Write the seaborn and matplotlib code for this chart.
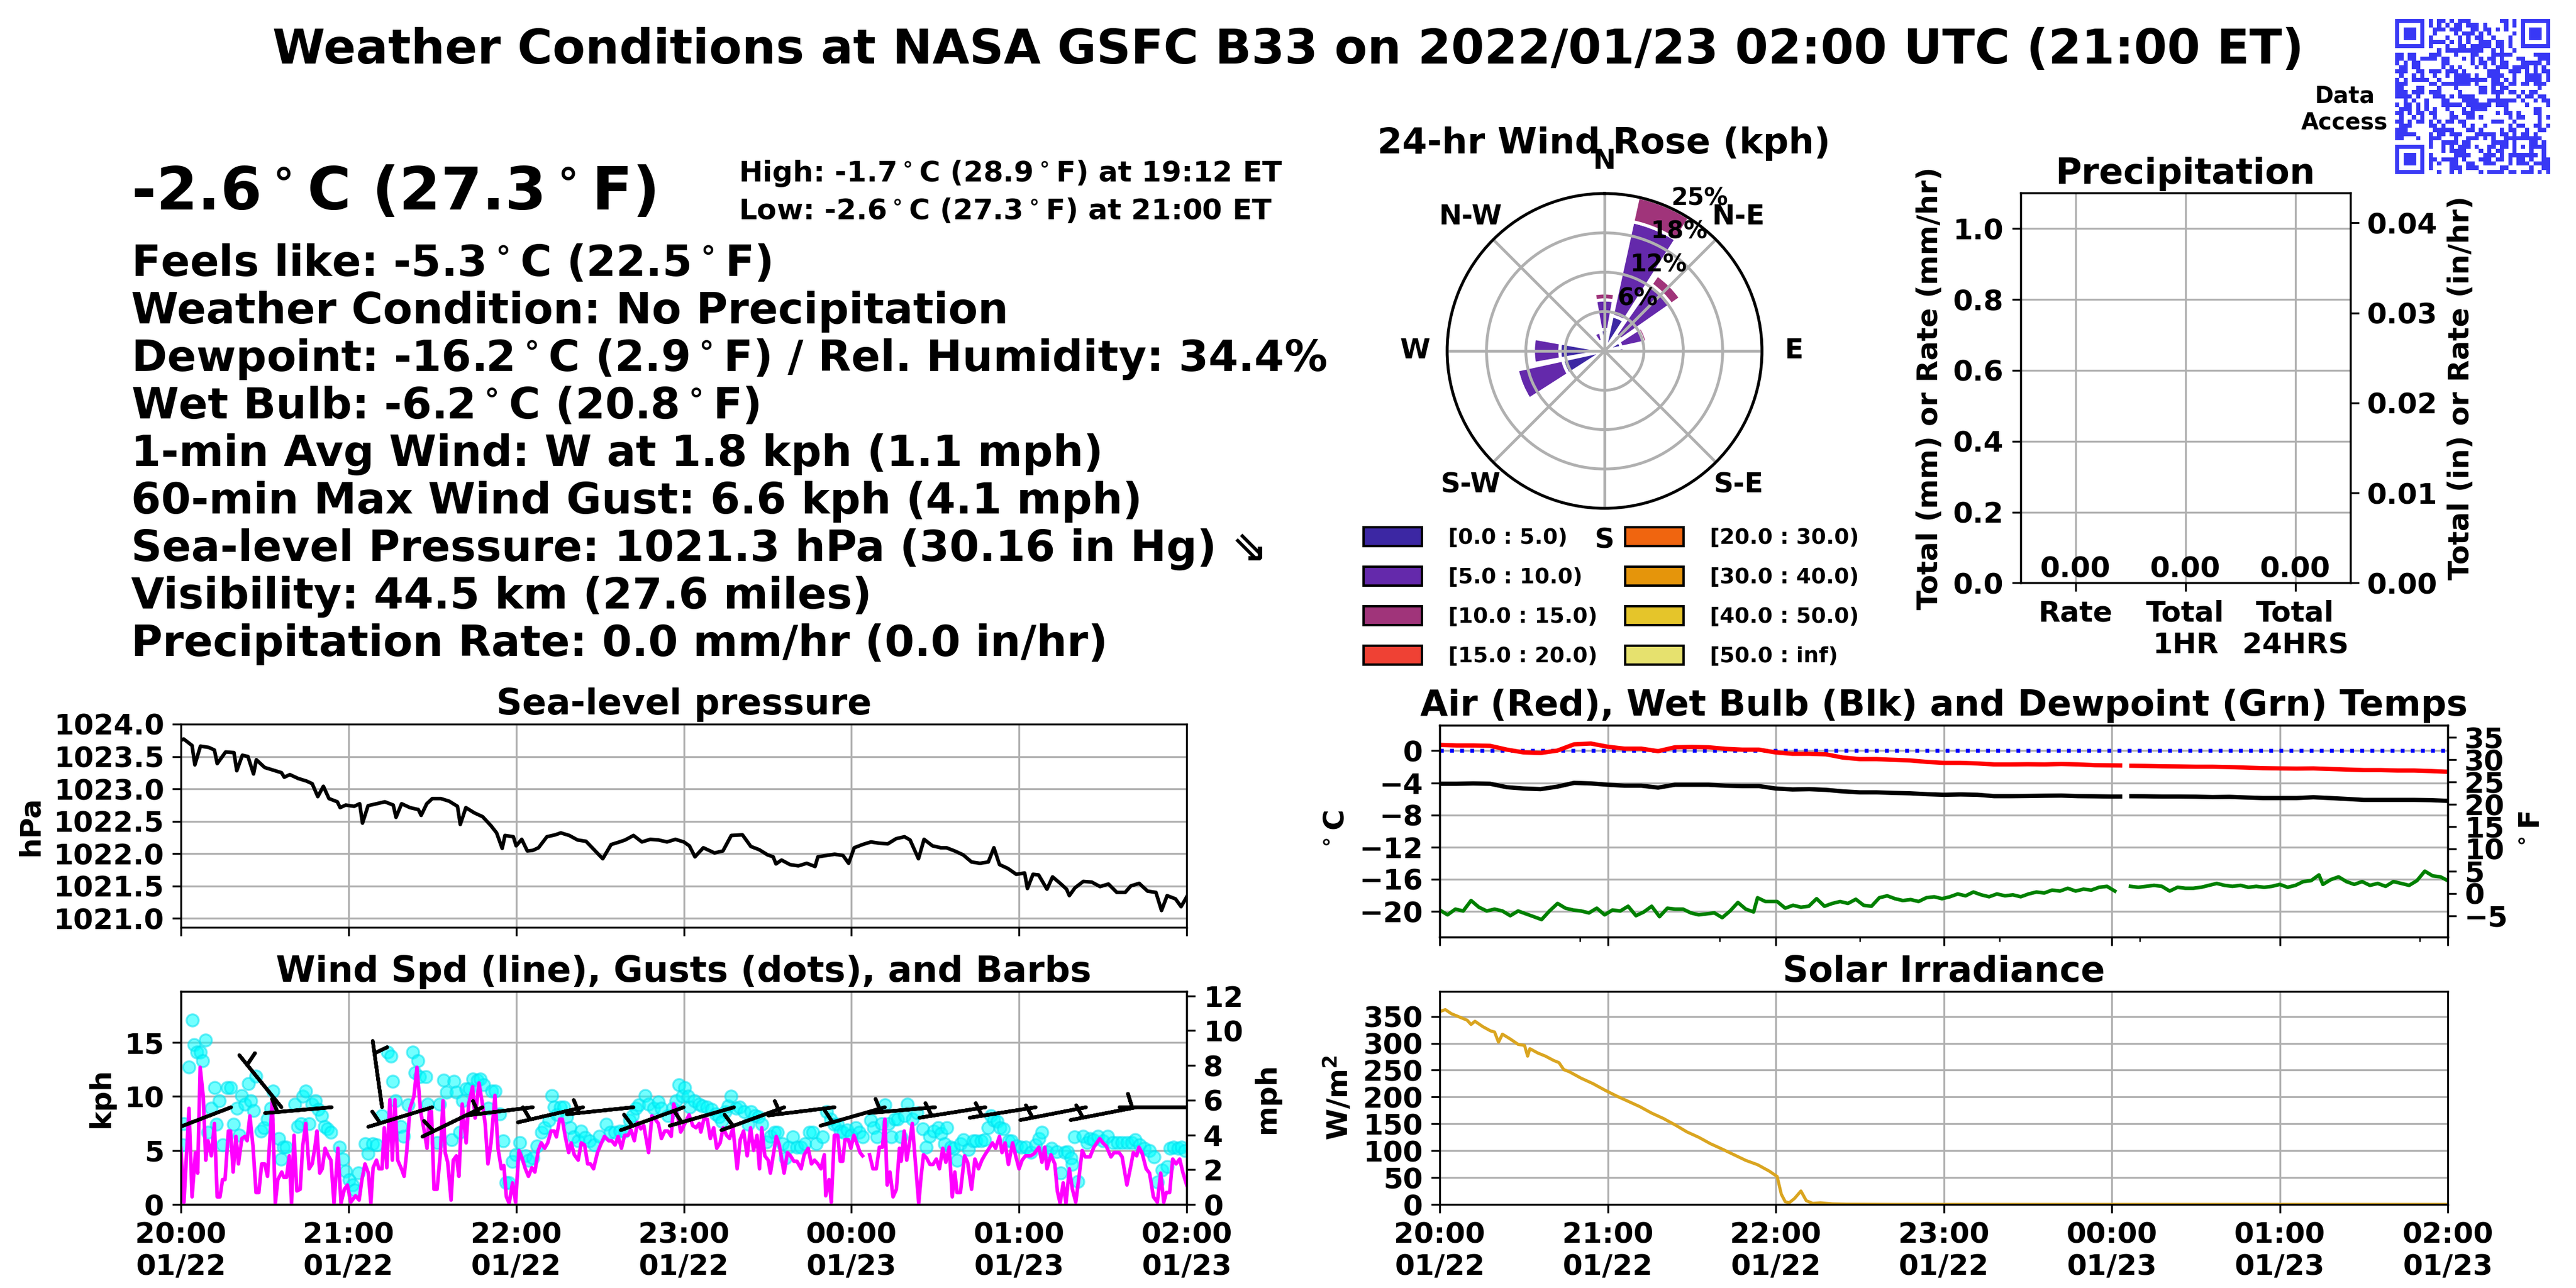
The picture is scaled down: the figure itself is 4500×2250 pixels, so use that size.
import hashlib
import numpy as np
import pandas as pd
import matplotlib
matplotlib.use("Agg")
import matplotlib.pyplot as plt
import matplotlib.dates as mdates
from matplotlib.ticker import FormatStrFormatter, FixedLocator
from matplotlib.patches import Patch
from matplotlib.colors import ListedColormap
import seaborn as sns

# ======================= DATA =======================
START = "2022-01-22 20:00"
END = "2022-01-23 02:00"
GAP_MIN = 245  # minutes after START where the record has a short gap

pres_min = [0, 1, 4, 5, 7, 10, 12, 13, 16, 19,
            20, 22, 24, 26, 27, 30, 33, 36, 37, 39,
            42, 45, 47, 49, 51, 53, 56, 57, 59, 62,
            64, 65, 67, 70, 73, 76, 77, 79, 82, 85,
            86, 88, 90, 93, 96, 99, 100, 102, 105, 108,
            111, 113, 115, 116, 119, 120, 122, 124, 126, 128,
            131, 134, 136, 139, 142, 145, 151, 154, 157, 159,
            162, 165, 168, 171, 174, 177, 180, 182, 184, 187,
            191, 194, 197, 201, 204, 207, 210, 212, 213, 215,
            218, 221, 224, 227, 228, 231, 234, 237, 239, 241,
            244, 247, 250, 253, 256, 259, 261, 264, 266, 269,
            272, 274, 277, 280, 283, 286, 289, 291, 293, 296,
            299, 302, 303, 305, 307, 310, 312, 315, 317, 318,
            320, 323, 326, 329, 332, 335, 338, 340, 343, 346,
            349, 351, 353, 356, 358, 360]
pres_hpa = [1023.75, 1023.77, 1023.67, 1023.37, 1023.66, 1023.64, 1023.60, 1023.39, 1023.57, 1023.56,
            1023.28, 1023.52, 1023.50, 1023.23, 1023.45, 1023.33, 1023.29, 1023.25, 1023.18, 1023.22,
            1023.16, 1023.12, 1023.08, 1022.88, 1023.04, 1022.85, 1022.80, 1022.71, 1022.75, 1022.73,
            1022.77, 1022.47, 1022.74, 1022.77, 1022.80, 1022.75, 1022.56, 1022.77, 1022.71, 1022.68,
            1022.59, 1022.77, 1022.85, 1022.85, 1022.81, 1022.73, 1022.45, 1022.71, 1022.63, 1022.57,
            1022.43, 1022.32, 1022.08, 1022.28, 1022.26, 1022.12, 1022.22, 1022.04, 1022.05, 1022.09,
            1022.26, 1022.29, 1022.32, 1022.28, 1022.21, 1022.19, 1021.92, 1022.14, 1022.18, 1022.21,
            1022.28, 1022.18, 1022.22, 1022.21, 1022.18, 1022.22, 1022.18, 1022.12, 1021.95, 1022.09,
            1022.01, 1022.04, 1022.28, 1022.29, 1022.11, 1022.06, 1021.98, 1021.95, 1021.84, 1021.90,
            1021.83, 1021.81, 1021.85, 1021.80, 1021.95, 1021.97, 1021.99, 1021.97, 1021.85, 1022.09,
            1022.14, 1022.18, 1022.16, 1022.15, 1022.23, 1022.26, 1022.21, 1021.92, 1022.22, 1022.12,
            1022.09, 1022.09, 1022.04, 1021.98, 1021.87, 1021.85, 1021.87, 1022.09, 1021.83, 1021.77,
            1021.68, 1021.70, 1021.46, 1021.68, 1021.67, 1021.45, 1021.64, 1021.53, 1021.45, 1021.35,
            1021.47, 1021.57, 1021.56, 1021.49, 1021.53, 1021.40, 1021.40, 1021.50, 1021.54, 1021.42,
            1021.40, 1021.12, 1021.35, 1021.30, 1021.18, 1021.33]

temp_min = [0, 6, 12, 18, 24, 30, 36, 42, 48, 54,
            60, 66, 72, 78, 84, 90, 96, 102, 108, 114,
            120, 126, 132, 138, 144, 150, 156, 162, 168, 174,
            180, 186, 192, 198, 204, 210, 216, 222, 228, 234,
            240, 243, 247, 252, 258, 264, 270, 276, 282, 288,
            294, 300, 306, 312, 318, 324, 330, 336, 342, 348,
            354, 360]
air_c = [0.73, 0.66, 0.66, 0.61, 0.14, -0.21, -0.28, 0.02, 0.80, 0.90,
         0.50, 0.26, 0.26, -0.05, 0.43, 0.47, 0.43, 0.24, 0.14, 0.14,
         -0.21, -0.38, -0.38, -0.45, -0.85, -1.04, -1.04, -1.13, -1.21, -1.39,
         -1.51, -1.51, -1.58, -1.70, -1.70, -1.68, -1.70, -1.65, -1.70, -1.80,
         -1.82, -1.83, -1.87, -1.89, -1.94, -1.96, -1.99, -1.99, -2.03, -2.10,
         -2.17, -2.20, -2.22, -2.20, -2.27, -2.34, -2.41, -2.41, -2.46, -2.46,
         -2.53, -2.62]
wetbulb_c = [-4.11, -4.11, -4.07, -4.11, -4.54, -4.70, -4.78, -4.47, -4.00, -4.07,
             -4.23, -4.35, -4.35, -4.59, -4.23, -4.23, -4.23, -4.35, -4.40, -4.40,
             -4.70, -4.82, -4.78, -4.87, -5.06, -5.18, -5.18, -5.25, -5.30, -5.41,
             -5.48, -5.44, -5.48, -5.65, -5.65, -5.63, -5.60, -5.58, -5.65, -5.67,
             -5.70, -5.70, -5.66, -5.67, -5.70, -5.70, -5.72, -5.77, -5.74, -5.82,
             -5.89, -5.89, -5.89, -5.79, -5.89, -6.00, -6.12, -6.12, -6.12, -6.12,
             -6.15, -6.24]

dew_min = [0.0, 2.8, 5.6, 8.4, 11.2, 14.0, 16.8, 19.6, 22.4, 25.2,
           28.0, 30.8, 33.6, 36.4, 39.2, 42.1, 44.9, 47.7, 50.5, 53.3,
           56.1, 58.9, 61.7, 64.5, 67.3, 70.1, 72.9, 75.7, 78.5, 81.3,
           84.1, 86.9, 89.7, 92.5, 95.3, 98.1, 100.9, 103.7, 106.5, 109.3,
           112.1, 113.5, 116.3, 120.5, 123.4, 126.2, 129.0, 131.8, 134.6, 137.4,
           140.2, 143.0, 145.8, 148.6, 151.4, 154.2, 157.0, 159.8, 162.6, 165.4,
           168.2, 171.0, 173.8, 176.6, 179.4, 182.2, 185.0, 187.8, 190.6, 193.4,
           196.2, 199.0, 201.9, 204.7, 207.5, 210.3, 213.1, 215.9, 218.7, 221.5,
           224.3, 227.1, 229.9, 232.7, 235.5, 238.3, 241.1, 246.7, 249.5, 252.3,
           255.1, 257.9, 260.7, 263.5, 266.3, 269.1, 271.9, 274.7, 277.5, 280.3,
           283.1, 286.0, 288.8, 291.6, 294.4, 297.2, 300.0, 302.8, 305.6, 308.4,
           311.2, 314.0, 315.4, 318.2, 321.0, 323.8, 326.6, 329.4, 332.2, 335.0,
           337.8, 340.6, 343.4, 346.2, 349.0, 351.8, 354.6, 357.4, 360.0]
dew_c = [-19.83, -20.43, -19.72, -19.95, -18.65, -19.48, -19.95, -19.72, -19.95, -20.54,
         -19.95, -20.31, -20.66, -21.02, -19.95, -19.01, -19.60, -19.83, -19.95, -20.19,
         -19.60, -20.43, -19.83, -19.95, -19.36, -20.54, -20.07, -19.36, -20.66, -19.60,
         -19.72, -19.72, -20.19, -20.43, -20.31, -20.19, -20.78, -19.95, -18.89, -19.72,
         -20.07, -18.30, -18.77, -18.77, -19.60, -19.24, -19.48, -19.36, -18.42, -19.36,
         -19.01, -18.77, -19.01, -18.49, -19.24, -19.36, -18.30, -18.06, -18.42, -18.65,
         -18.53, -18.77, -18.30, -18.18, -18.42, -18.18, -17.83, -18.06, -17.59, -17.94,
         -18.18, -17.83, -18.06, -17.94, -18.18, -17.83, -17.59, -17.71, -17.35, -17.47,
         -17.12, -17.47, -17.23, -17.35, -17.00, -16.88, -17.47, -16.88, -17.00, -16.88,
         -16.76, -16.88, -17.47, -17.00, -17.12, -17.12, -17.00, -16.76, -16.52, -16.76,
         -16.88, -16.76, -17.00, -16.88, -17.00, -16.88, -16.64, -17.00, -16.76, -16.29,
         -16.17, -15.46, -16.64, -16.05, -15.70, -16.29, -16.64, -16.29, -16.76, -16.52,
         -16.88, -16.29, -16.52, -16.76, -16.17, -14.99, -15.58, -15.70, -16.17]

wind_min = [0.0, 1.1, 2.9, 4.0, 5.2, 6.0, 6.9, 8.0, 8.9, 9.7,
            10.9, 12.0, 13.0, 14.0, 14.9, 15.8, 17.0, 17.8, 18.7, 19.7,
            20.6, 21.8, 22.9, 23.7, 24.7, 25.8, 26.9, 27.9, 28.9, 30.0,
            31.0, 32.7, 33.8, 34.7, 36.1, 36.9, 37.8, 38.8, 39.6, 40.5,
            41.5, 42.7, 43.6, 44.7, 45.9, 47.0, 47.9, 48.7, 49.7, 50.6,
            51.6, 52.8, 53.7, 54.8, 56.2, 57.3, 58.5, 59.6, 60.8, 62.5,
            63.8, 64.8, 65.9, 67.1, 68.0, 68.8, 70.0, 70.9, 72.0, 72.8,
            73.7, 74.8, 75.7, 76.6, 77.6, 79.1, 79.9, 80.8, 82.0, 83.4,
            84.5, 85.8, 86.9, 88.1, 88.9, 89.7, 90.6, 91.7, 92.9, 93.8,
            94.6, 95.5, 96.7, 97.5, 98.6, 99.5, 100.7, 102.1, 103.0, 104.4,
            105.3, 106.7, 107.8, 108.9, 109.9, 111.0, 112.4, 113.5, 114.7, 115.6,
            116.5, 117.5, 118.7, 119.8, 121.0, 122.1, 123.3, 124.4, 125.6, 126.7,
            127.9, 129.0, 130.2, 131.3, 132.5, 133.6, 134.4, 135.6, 136.5, 137.6,
            138.8, 139.7, 140.8, 142.2, 143.3, 144.5, 145.6, 146.6, 147.7, 149.1,
            150.2, 151.6, 153.1, 154.2, 155.4, 156.5, 157.7, 158.8, 160.0, 161.1,
            162.3, 163.4, 164.6, 165.7, 167.4, 168.6, 169.7, 170.9, 172.0, 173.2,
            174.3, 175.5, 176.4, 177.8, 178.9,
            180.4, 181.9, 183.2, 184.4, 185.5, 186.1, 187.2, 188.4, 189.5, 190.7,
            191.8, 193.0, 194.1, 195.3, 196.4, 197.6, 199.1, 200.2, 201.4, 202.7,
            203.9, 205.0, 206.2, 207.1, 207.9, 209.0, 210.2, 211.0, 213.1, 214.2,
            215.9, 217.1, 218.2, 219.4, 220.5, 222.0, 223.1, 224.5, 225.7, 226.8,
            228.0, 229.1, 230.3, 230.8, 232.0, 232.8, 233.9, 235.1, 236.0, 236.9,
            237.7, 238.9, 239.8, 240.9, 242.3, 243.1, 244.0, 246.5, 247.7, 248.9,
            250.0, 251.1, 252.0, 252.8, 253.8, 254.9, 256.1, 257.2, 257.8, 258.9,
            259.8, 260.8, 261.8, 262.9, 264.1, 264.9, 265.8, 266.9, 268.1, 269.2,
            270.4, 271.5, 272.7, 273.8, 275.0, 276.1, 277.0, 277.8, 279.0, 280.5,
            281.6, 283.0, 284.2, 285.5, 286.7, 287.8, 289.3, 290.5, 291.6, 293.0,
            293.9, 295.0, 296.2, 297.7, 298.8, 300.0, 301.1, 302.3, 304.2, 305.4,
            307.1, 308.2, 309.2, 310.0, 311.4, 312.8, 313.7, 314.7, 315.8, 316.8,
            318.0, 319.1, 320.3, 321.4, 322.6, 323.7, 325.4, 326.8, 328.9, 330.0,
            331.2, 332.9, 334.0, 335.8, 336.9, 338.6, 339.8, 340.9, 342.1, 342.9,
            344.0, 345.5, 346.7, 348.1, 349.5, 350.7, 351.8, 352.7, 353.9, 355.0,
            356.2, 357.5, 358.7, 360.0]
wind_kph = [5.2, 0.2, 8.9, 0.7, 4.8, 2.9, 12.7, 10.0, 4.1, 5.9,
            4.5, 7.5, 0.7, 0.7, 2.3, 2.3, 6.8, 6.8, 3.0, 6.3,
            3.75, 6.1, 6.3, 5.9, 8.2, 5.4, 1.1, 1.1, 3.75, 3.75,
            2.6, 9.6, 0.1, 2.3, 3.0, 2.5, 2.5, 4.5, 0.1, 6.4,
            1.25, 1.4, 5.4, 7.5, 3.3, 3.75, 5.2, 6.8, 2.9, 3.3,
            5.2, 4.5, 4.1, 0.1, 5.2, 0.1, 1.4, 1.8, 0.2, 0.8,
            0.4, 2.3, 3.75, 2.9, 0.1, 3.4, 4.1, 3.3, 3.3, 7.1,
            3.4, 9.7, 4.1, 9.7, 4.1, 3.2, 2.6, 4.8, 8.9, 10.0,
            12.7, 8.6, 7.1, 5.2, 8.6, 8.6, 1.4, 1.4, 4.8, 9.6,
            4.8, 3.9, 0.4, 4.1, 4.5, 2.6, 9.3, 5.7, 9.3, 10.9,
            8.0, 11.25, 9.5, 7.5, 3.75, 5.7, 10.1, 5.2, 3.3, 3.6,
            0.7, 0.1, 2.0, 0.2, 5.0, 4.3, 3.3, 2.6, 3.4, 3.0,
            5.0, 5.7, 5.2, 5.7, 6.8, 6.8, 6.25, 7.9, 7.9, 6.25,
            4.8, 5.7, 4.6, 4.1, 5.7, 5.5, 3.75, 3.75, 3.3, 4.8,
            5.5, 6.3, 5.9, 5.9, 5.5, 6.3, 5.2, 6.4, 6.4, 6.9,
            5.9, 7.6, 7.0, 7.3, 4.8, 8.2, 7.9, 7.5, 6.1, 6.8,
            6.8, 6.3, 9.3, 8.2, 6.7,
            7.5, 8.3, 7.3, 7.1, 7.5, 6.7, 7.9, 7.9, 6.1, 7.1,
            5.2, 5.7, 7.1, 6.4, 6.1, 7.1, 3.3, 6.0, 6.8, 4.5,
            7.1, 5.0, 6.4, 3.3, 7.1, 4.5, 4.1, 2.9, 6.3, 5.5,
            2.9, 4.8, 4.5, 4.0, 4.0, 3.3, 4.6, 5.2, 3.75, 4.1,
            3.75, 3.3, 4.6, 0.8, 2.3, 0.2, 6.4, 6.4, 4.0, 4.0,
            6.0, 6.0, 5.2, 6.4, 5.4, 4.8, 4.5, 4.6, 3.3, 3.3,
            5.3, 5.3, 7.9, 1.8, 3.0, 0.7, 1.4, 5.2, 4.0, 6.8,
            4.1, 5.7, 7.5, 3.9, 0.1, 2.5, 4.6, 4.3, 3.7, 3.7,
            4.2, 3.3, 5.2, 3.9, 5.3, 0.7, 3.0, 1.1, 1.1, 4.5,
            3.9, 1.4, 4.2, 3.3, 4.1, 4.6, 5.2, 5.7, 5.2, 6.3,
            4.8, 5.7, 3.7, 5.7, 4.5, 3.3, 4.1, 4.5, 4.5, 4.7,
            5.3, 3.9, 5.3, 3.3, 4.6, 3.75, 1.25, 0.1, 2.0, 0.1,
            3.3, 1.4, 0.2, 2.4, 5.0, 4.4, 4.4, 5.3, 6.1, 5.7,
            5.4, 4.4, 4.8, 4.8, 4.4, 1.8, 3.3, 4.8, 4.5, 5.3,
            4.8, 3.3, 2.9, 0.7, 0.2, 2.9, 0.2, 1.1, 1.1, 4.2,
            3.75, 4.2, 2.9, 1.8]

gust_min = [0.6, 1.1, 2.9, 4.0, 4.8, 5.7, 6.9, 7.8, 8.8, 9.7,
            10.9, 12.0, 12.8, 13.8, 14.9, 16.6, 17.8, 18.9, 20.1, 20.9,
            21.8, 22.9, 24.1, 25.0, 26.1, 26.9, 28.7, 29.8, 31.0, 32.1,
            33.0, 35.0, 35.8, 36.7, 37.8, 40.7, 41.9, 43.0, 43.6, 44.7,
            45.9, 47.0, 48.2, 49.1, 50.5, 51.4, 52.5, 53.7, 56.8, 57.9,
            59.1, 60.2, 61.4, 62.2, 63.6, 65.9, 67.1, 68.6, 70.0, 72.0,
            74.0, 75.1, 75.9, 76.8, 78.6, 79.7, 81.4, 82.9, 83.9, 84.9,
            85.4, 87.7, 88.3, 91.7, 92.7, 94.0, 95.0, 96.9, 97.7, 98.6,
            99.8, 100.9, 102.1, 103.2, 104.4, 106.1, 107.2, 108.4, 110.1, 111.2,
            112.4, 114.1, 115.3, 116.4, 117.5, 118.7, 119.8, 121.3, 123.3, 124.4,
            126.1, 127.5, 129.0, 130.2, 131.7, 132.8, 133.6, 134.7, 135.9, 137.0,
            138.2, 139.3, 140.5, 142.2, 143.3, 144.7, 146.2, 147.9, 149.7, 152.3,
            153.7, 155.4, 157.1, 158.8, 160.6, 161.7, 162.8, 164.0, 166.1, 167.4,
            169.2, 170.9, 172.0, 174.3, 176.0, 177.2, 178.3, 179.5,
            180.4, 181.5, 182.1, 183.8, 185.5, 186.7, 188.4, 189.9, 191.3, 192.5,
            193.6, 194.8, 195.9, 197.0, 198.7, 199.9, 201.6, 203.0, 204.1, 205.6,
            206.7, 207.9, 209.6, 211.0, 212.5, 213.6, 215.3, 216.3, 217.6, 219.1,
            220.5, 222.0, 223.4, 224.9, 226.2, 227.4, 229.7, 231.2, 232.5, 233.7,
            235.1, 236.0, 237.1, 238.5, 240.0, 241.5, 242.9, 244.0, 246.9, 248.0,
            249.2, 250.7, 252.0, 253.2, 254.3, 255.5, 256.6, 257.8, 258.9, 260.1,
            261.8, 263.5, 265.6, 266.7, 267.9, 269.5, 271.0, 272.1, 273.3, 274.1,
            275.6, 276.7, 277.8, 279.0, 280.1, 281.9, 283.6, 284.7, 286.4, 287.6,
            289.0, 289.9, 291.0, 292.2, 293.3, 294.5, 296.2, 297.3, 299.1, 300.8,
            302.5, 304.2, 305.9, 307.1, 308.2, 310.0, 311.7, 313.4, 314.9, 316.3,
            317.4, 318.6, 319.1, 319.9, 321.1, 322.9, 324.3, 325.4, 326.6, 328.3,
            330.0, 331.7, 333.5, 335.2, 336.9, 338.6, 340.3, 341.5, 343.2, 344.9,
            346.7, 348.4, 349.5, 351.2, 353.0, 354.1, 355.3, 357.0, 358.1, 359.3]
gust_kph = [5.5, 7.5, 12.7, 17.05, 14.8, 14.1, 14.1, 13.3, 15.2, 6.7,
            8.9, 10.8, 7.4, 9.6, 5.5, 10.8, 10.8, 7.4, 8.9, 6.4,
            10.1, 9.3, 11.2, 9.6, 8.7, 11.9, 6.8, 7.1, 7.9, 8.9,
            10.5, 6.1, 4.2, 5.3, 5.3, 9.3, 7.2, 7.5, 10.0, 10.5,
            7.5, 9.3, 9.6, 8.8, 8.2, 7.2, 7.0, 6.7, 5.3, 4.2,
            3.1, 2.3, 1.8, 1.3, 2.9, 5.6, 4.7, 5.6, 5.5, 8.2,
            14.1, 13.75, 11.4, 9.6, 7.2, 6.3, 9.2, 14.1, 12.2, 13.3,
            11.8, 11.8, 9.3, 5.7, 9.3, 11.5, 10.4, 6.0, 11.4, 10.4,
            6.7, 9.6, 10.7, 10.7, 11.6, 11.5, 11.6, 11.1, 8.9, 10.5,
            10.5, 8.4, 5.9, 2.0, 2.0, 4.0, 4.6, 5.7, 4.5, 4.1,
            4.3, 5.4, 6.7, 7.1, 7.8, 10.1, 9.0, 8.3, 9.0, 9.0,
            8.1, 7.1, 6.25, 5.9, 6.8, 6.2, 5.9, 5.5, 6.3, 7.4,
            6.7, 6.7, 6.8, 6.8, 7.8, 8.2, 8.9, 9.2, 10.1, 9.3,
            8.9, 9.5, 8.9, 8.2, 8.9, 9.6, 11.1, 10.0,
            10.8, 10.0, 9.0, 9.6, 9.3, 9.1, 9.0, 8.8, 8.4, 8.1,
            7.7, 8.6, 9.1, 10.0, 8.9, 9.0, 8.6, 7.4, 8.6, 8.2,
            8.1, 7.4, 5.8, 6.3, 6.7, 6.7, 5.6, 4.3, 5.3, 6.25,
            5.3, 5.3, 5.6, 6.7, 6.7, 5.6, 6.25, 8.6, 7.9, 7.4,
            7.4, 6.8, 6.7, 6.9, 6.4, 7.1, 6.7, 6.25, 7.8, 7.1,
            6.25, 7.5, 9.2, 7.5, 6.25, 7.9, 7.9, 6.25, 8.2, 9.3,
            7.9, 8.5, 7.0, 5.3, 6.3, 6.8, 7.1, 6.6, 5.6, 7.1,
            5.3, 5.2, 4.1, 5.6, 6.0, 5.1, 5.9, 5.9, 5.9, 6.0,
            7.1, 8.2, 7.8, 7.7, 7.1, 7.0, 5.9, 5.9, 5.4, 5.3,
            5.3, 4.8, 5.5, 6.1, 6.7, 4.9, 5.2, 4.9, 2.9, 4.8,
            4.9, 4.3, 3.7, 6.25, 2.1, 6.3, 5.7, 6.1, 6.0, 6.3,
            5.9, 6.3, 5.7, 5.7, 5.7, 5.7, 5.7, 6.0, 5.5, 5.2,
            5.0, 4.4, 2.05, 3.2, 3.5, 5.2, 5.3, 5.2, 5.3, 5.0]

barb_min = [18, 36, 54, 72, 90, 108, 126, 144, 162, 180,
            198, 216, 234, 252, 270, 288, 306, 324, 342, 360]
barb_dir_deg = [249, 321, 265, 352, 253, 244, 263, 257, 264, 250,
                254, 250, 263, 254, 265, 261, 261, 259, 259, 270]
barb_kph = [5.5, 6.0, 5.5, 6.5, 6.0, 6.5, 6.0, 6.0, 6.5, 6.5,
            6.5, 6.0, 5.5, 5.5, 5.5, 5.5, 5.5, 5.5, 5.5, 5.5]
BARB_LEVEL_KPH = 9.0

solar_min = [0, 2, 4.2, 7, 9.8, 11.2, 12.6, 15.4, 18.2, 19.6,
             21, 22.4, 25.2, 28, 30.3, 31.4, 32.2, 35, 37.8, 40.7,
             42.6, 44.3, 46.3, 50.5, 54.7, 58.9, 63.1, 67.3, 71.5, 75.7,
             79.9, 84.1, 88.3, 92.5, 96.7, 100.9, 105.1, 109.3, 113.5, 117.7,
             120.5, 122, 123.4, 124.8, 126.7, 129, 130.9, 133.2, 136, 140.2,
             145.8, 162.6, 360]
solar_wm2 = [359, 362.7, 355, 349, 343, 335, 341, 331, 323, 321,
             302, 317, 308, 298, 296, 276, 290, 282, 276, 268,
             264, 251, 247, 235, 225, 213, 202, 192, 182, 170,
             160, 148, 135, 125, 113, 103, 92.5, 82, 74, 62,
             52, 19, 5, 3, 11, 25, 7, 2, 3, 1,
             0.4, 0, 0]

precip_labels = ["Rate", "Total\n1HR", "Total\n24HRS"]
precip_mm = [0.0, 0.0, 0.0]

rose_dir_deg = [0, 22.5, 45, 67.5, 90, 112.5, 135, 157.5,
                180, 202.5, 225, 247.5, 270, 292.5, 315, 337.5]
rose_bin_labels = ["[0.0 : 5.0)", "[5.0 : 10.0)", "[10.0 : 15.0)", "[15.0 : 20.0)",
                   "[20.0 : 30.0)", "[30.0 : 40.0)", "[40.0 : 50.0)", "[50.0 : inf)"]
rose_pct_0_5 = [3.4, 5.7, 3.1, 2.7, 1.6, 0, 0, 0, 0, 0, 0, 6.8, 7.1, 0, 1.2, 1.6]
rose_pct_5_10 = [4.7, 15.3, 9.8, 3.6, 1.5, 0, 0, 0, 0, 0, 0, 7.4, 4.2, 0, 0.8, 1.5]
rose_pct_10_15 = [1.1, 4.0, 1.8, 0.6, 0, 0, 0, 0, 0, 0, 0, 0.4, 0, 0, 0, 0]
rose_pct_15_20 = [0.0] * 16
rose_pct_20_30 = [0.0] * 16
rose_pct_30_40 = [0.0] * 16
rose_pct_40_50 = [0.0] * 16
rose_pct_50_inf = [0.0] * 16
rose_colors = ["#3c27a3", "#6429ab", "#a0347a", "#ef4134",
               "#f0650f", "#e5950b", "#e5c52a", "#e6e16e"]

title_text = "Weather Conditions at NASA GSFC B33 on 2022/01/23 02:00 UTC (21:00 ET)"
main_temp = "-2.6$^\\circ$C (27.3$^\\circ$F)"
high_text = "High: -1.7$^\\circ$C (28.9$^\\circ$F) at 19:12 ET"
low_text = "Low: -2.6$^\\circ$C (27.3$^\\circ$F) at 21:00 ET"
info_lines = ["Feels like: -5.3$^\\circ$C (22.5$^\\circ$F)",
              "Weather Condition: No Precipitation",
              "Dewpoint: -16.2$^\\circ$C (2.9$^\\circ$F) / Rel. Humidity: 34.4%",
              "Wet Bulb: -6.2$^\\circ$C (20.8$^\\circ$F)",
              "1-min Avg Wind: W at 1.8 kph (1.1 mph)",
              "60-min Max Wind Gust: 6.6 kph (4.1 mph)",
              "Sea-level Pressure: 1021.3 hPa (30.16 in Hg) \u21d8",
              "Visibility: 44.5 km (27.6 miles)",
              "Precipitation Rate: 0.0 mm/hr (0.0 in/hr)"]

# ======================= STYLE =======================
plt.rcParams.update({
    "font.family": ["DejaVu Sans", "Noto Sans"],
    "font.weight": "bold",
    "axes.labelweight": "bold",
    "axes.titleweight": "bold",
    "axes.titlesize": 15,
    "axes.labelsize": 12,
    "xtick.labelsize": 12,
    "ytick.labelsize": 12,
    "mathtext.default": "regular",
    "grid.color": "#b0b0b0",
    "grid.linewidth": 0.8,
})

W, H = 4500.0, 2250.0
def rect(l, t, r, b):
    return [l / W, 1 - b / H, (r - l) / W, (b - t) / H]

t0 = pd.Timestamp(START)
t1 = pd.Timestamp(END)
def to_time(m):
    return t0 + pd.to_timedelta(np.asarray(m, dtype=float), unit="min")

def seg_frame(m, v):
    m = np.asarray(m, dtype=float)
    return pd.DataFrame({"time": to_time(m), "val": np.asarray(v, dtype=float),
                         "seg": (m > GAP_MIN).astype(int)})

def time_axis(ax, labels=True):
    ax.set_xlim(t0, t1)
    ax.xaxis.set_major_locator(mdates.HourLocator())
    ax.xaxis.set_major_formatter(mdates.DateFormatter("%H:%M\n%m/%d"))
    ax.tick_params(axis="x", labelbottom=labels)
    ax.set_xlabel("")
    ax.grid(True)

fig = plt.figure(figsize=(15, 7.5), dpi=300)

# ---------------- header texts ----------------
fig.text(0.5, 1 - 111 / H, title_text, ha="center", va="baseline", fontsize=20)
fig.text(229 / W, 1 - 366 / H, main_temp, ha="left", va="baseline", fontsize=25)
fig.text(1290 / W, 1 - 317 / H, high_text, ha="left", va="baseline", fontsize=12)
fig.text(1290 / W, 1 - 383 / H, low_text, ha="left", va="baseline", fontsize=12)
for i, line in enumerate(info_lines):
    fig.text(229 / W, 1 - (482 + 83.0 * i) / H, line, ha="left", va="baseline", fontsize=18)
fig.text(4096 / W, 1 - 180 / H, "Data", ha="center", va="baseline", fontsize=9.5)
fig.text(4096 / W, 1 - 226 / H, "Access", ha="center", va="baseline", fontsize=9.5)

# ---------------- QR code ----------------
ax_qr = fig.add_axes(rect(4184, 33, 4455, 304))
n = 37
bits = []
h = b"NASA GSFC B33 weather data access"
while len(bits) < n * n:
    h = hashlib.sha256(h).digest()
    bits.extend(np.unpackbits(np.frombuffer(h, dtype=np.uint8)).tolist())
qr = np.array(bits[:n * n]).reshape(n, n)
for (r0, c0) in [(0, 0), (0, n - 7), (n - 7, 0)]:
    rs, cs = max(r0 - 1, 0), max(c0 - 1, 0)
    qr[rs:r0 + 8, cs:c0 + 8] = 0
    qr[r0:r0 + 7, c0:c0 + 7] = 1
    qr[r0 + 1:r0 + 6, c0 + 1:c0 + 6] = 0
    qr[r0 + 2:r0 + 5, c0 + 2:c0 + 5] = 1
qr[n - 9:n - 4, n - 9:n - 4] = 1
qr[n - 8:n - 5, n - 8:n - 5] = 0
qr[n - 7, n - 7] = 1
ax_qr.imshow(qr, cmap=ListedColormap(["white", "#3838f5"]), interpolation="nearest")
ax_qr.axis("off")

# ---------------- Wind rose ----------------
ax_r = fig.add_axes(rect(2528, 338, 3078, 888), projection="polar")
ax_r.set_theta_zero_location("N")
ax_r.set_theta_direction(-1)
theta = np.deg2rad(np.asarray(rose_dir_deg))
width = np.deg2rad(22.5) * 0.9
bottom = np.zeros(len(rose_dir_deg))
rose_bins = [rose_pct_0_5, rose_pct_5_10, rose_pct_10_15, rose_pct_15_20,
             rose_pct_20_30, rose_pct_30_40, rose_pct_40_50, rose_pct_50_inf]
for vals, col in zip(rose_bins, rose_colors):
    vals = np.asarray(vals, dtype=float)
    mask = vals > 0
    if mask.any():
        ax_r.bar(theta[mask], vals[mask], width=width, bottom=bottom[mask], color=col,
                 edgecolor="white", linewidth=1.3)
    bottom += vals
ax_r.set_ylim(0, 25)
ax_r.set_yticks([6.25, 12.5, 18.75, 25])
ax_r.set_yticklabels([])
ax_r.set_xticks(np.deg2rad(np.arange(0, 360, 45)))
ax_r.set_xticklabels(["N", "N-E", "E", "S-E", "S", "S-W", "W", "N-W"], fontsize=11.5)
ax_r.tick_params(axis="x", pad=3)
ax_r.grid(True, color="#b0b0b0", linewidth=1.2)
ax_r.spines["polar"].set_linewidth(1.2)
for rv, lab in zip([6.25, 12.5, 18.75, 25], ["6%", "12%", "18%", "25%"]):
    ax_r.text(np.deg2rad(32), rv + 3.6, lab, ha="center", va="center", fontsize=10, zorder=6)
fig.text(2802 / W, 1 - 251 / H, "24-hr Wind Rose (kph)", ha="center", va="center", fontsize=15)
handles = [Patch(facecolor=c, edgecolor="black", linewidth=1.0) for c in rose_colors]
fig.legend(handles, rose_bin_labels, loc="upper left", bbox_to_anchor=(0.5218, 0.6057), ncol=2,
           frameon=False, prop={"size": 9, "weight": "bold"}, handlelength=2.72,
           handleheight=0.96, handletextpad=1.23, labelspacing=0.85, columnspacing=1.3,
           borderpad=0.4)

# ---------------- Precipitation ----------------
ax_pr = fig.add_axes(rect(3529.5, 337.4, 4105.6, 1018.4))
sns.barplot(x=precip_labels, y=precip_mm, ax=ax_pr, color="#4a90d9")
for cont in ax_pr.containers:
    ax_pr.bar_label(cont, fmt="%.2f", fontsize=12, fontweight="bold")
ax_pr.set_ylim(0, 1.1)
ax_pr.set_yticks([0, 0.2, 0.4, 0.6, 0.8, 1.0])
ax_pr.yaxis.set_major_formatter(FormatStrFormatter("%.1f"))
ax_pr.grid(True)
ax_pr.set_axisbelow(True)
ax_pr.set_title("Precipitation", pad=4)
ax_pr.set_ylabel("Total (mm) or Rate (mm/hr)")
ax_pr.set_xlabel("")
ax_pr2 = ax_pr.twinx()
ax_pr2.set_ylim(0, 1.1 / 25.4)
ax_pr2.set_yticks([0, 0.01, 0.02, 0.03, 0.04])
ax_pr2.yaxis.set_major_formatter(FormatStrFormatter("%.2f"))
ax_pr2.set_ylabel("Total (in) or Rate (in/hr)")

# ---------------- Sea-level pressure ----------------
ax_p = fig.add_axes(rect(316, 1265, 2073, 1620))
sns.lineplot(x=to_time(pres_min), y=pres_hpa, ax=ax_p, color="black", linewidth=1.5, legend=False)
time_axis(ax_p, labels=False)
ax_p.set_ylim(1020.86, 1024.0)
ax_p.set_yticks(np.arange(1021.0, 1024.01, 0.5))
ax_p.yaxis.set_major_formatter(FormatStrFormatter("%.1f"))
ax_p.set_ylabel("hPa")
ax_p.set_title("Sea-level pressure", pad=4)

# ---------------- Wind ----------------
ax_w = fig.add_axes(rect(316, 1731.5, 2073, 2104))
sns.scatterplot(x=to_time(gust_min), y=gust_kph, ax=ax_w, color="cyan", s=26, alpha=0.55,
                edgecolor="#00e0f0", linewidth=0.8, legend=False, zorder=2)
sns.lineplot(data=seg_frame(wind_min, wind_kph), x="time", y="val", units="seg", estimator=None,
             ax=ax_w, color="magenta", linewidth=1.5, legend=False, zorder=3)
bt = mdates.date2num(to_time(barb_min).to_pydatetime())
bd = np.deg2rad(np.asarray(barb_dir_deg, dtype=float))
bs = np.asarray(barb_kph, dtype=float)
ax_w.barbs(bt, np.full(len(bt), BARB_LEVEL_KPH), -bs * np.sin(bd), -bs * np.cos(bd),
           length=7.5, linewidth=1.5, color="black", zorder=4)
time_axis(ax_w, labels=True)
ax_w.set_ylim(0, 19.75)
ax_w.set_yticks([0, 5, 10, 15])
ax_w.set_ylabel("kph")
ax_w.set_title("Wind Spd (line), Gusts (dots), and Barbs", pad=4)
ax_w2 = ax_w.twinx()
ax_w2.set_ylim(0, 19.75 / 1.609344)
ax_w2.set_yticks([0, 2, 4, 6, 8, 10, 12])
ax_w2.set_ylabel("mph")

# ---------------- Temperatures ----------------
ax_t = fig.add_axes(rect(2515, 1267, 4276, 1637))
ax_t.axhline(0, color="blue", linestyle=":", linewidth=1.6, zorder=2)
sns.lineplot(data=seg_frame(temp_min, air_c), x="time", y="val", units="seg", estimator=None,
             ax=ax_t, color="red", linewidth=1.8, legend=False)
sns.lineplot(data=seg_frame(temp_min, wetbulb_c), x="time", y="val", units="seg", estimator=None,
             ax=ax_t, color="black", linewidth=1.8, legend=False)
sns.lineplot(data=seg_frame(dew_min, dew_c), x="time", y="val", units="seg", estimator=None,
             ax=ax_t, color="green", linewidth=1.5, legend=False)
time_axis(ax_t, labels=False)
ax_t.xaxis.set_minor_locator(FixedLocator(mdates.date2num(
    to_time([50, 100, 150, 200, 250, 300, 350]).to_pydatetime())))
ax_t.set_ylim(-23.2, 3.17)
ax_t.set_yticks([-20, -16, -12, -8, -4, 0])
ax_t.set_ylabel("$^\\circ$C")
ax_t.set_title("Air (Red), Wet Bulb (Blk) and Dewpoint (Grn) Temps", pad=4)
ax_t2 = ax_t.twinx()
ax_t2.set_ylim(-23.2 * 9 / 5 + 32, 3.17 * 9 / 5 + 32)
ax_t2.set_yticks([-5, 0, 5, 10, 15, 20, 25, 30, 35])
ax_t2.set_ylabel("$^\\circ$F")

# ---------------- Solar ----------------
ax_s = fig.add_axes(rect(2515, 1731.5, 4276, 2104))
sns.lineplot(x=to_time(solar_min), y=solar_wm2, ax=ax_s, color="goldenrod", linewidth=1.3, legend=False)
time_axis(ax_s, labels=True)
ax_s.set_ylim(0, 397)
ax_s.set_yticks([0, 50, 100, 150, 200, 250, 300, 350])
ax_s.set_ylabel("W/m$^2$")
ax_s.set_title("Solar Irradiance", pad=4)

fig.savefig("out.png", dpi=300)
